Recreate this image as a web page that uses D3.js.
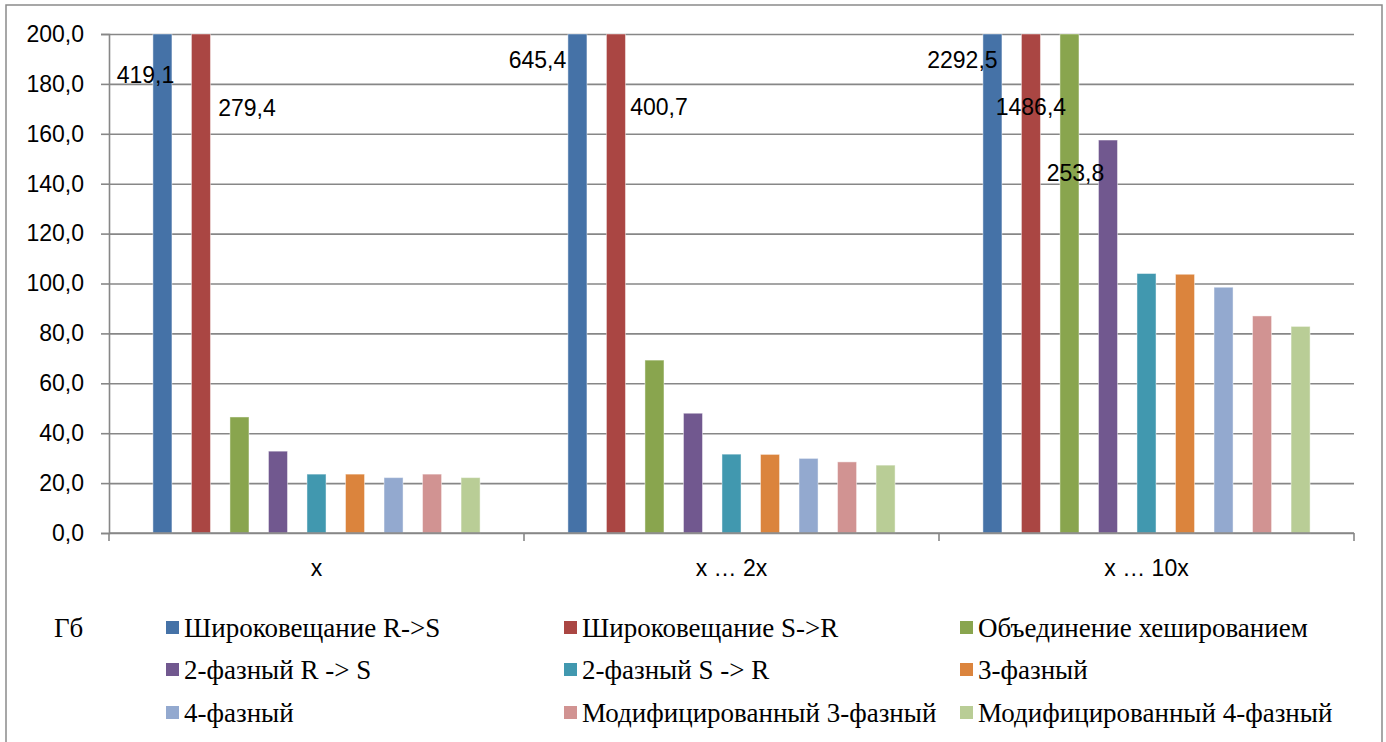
<!DOCTYPE html>
<html>
<head>
<meta charset="utf-8">
<script src="https://cdn.jsdelivr.net/npm/d3@7"></script>
<style>
  html, body { margin: 0; padding: 0; background: #fff; }
  svg { display: block; }
</style>
</head>
<body>
<svg id="chart" width="1386" height="742"></svg>
<script>
// ---- Data ----
const categories = ["x", "x … 2x", "x … 10x"];
const seriesNames = [
  "Широковещание R->S",
  "Широковещание S->R",
  "Объединение хешированием",
  "2-фазный R -> S",
  "2-фазный S -> R",
  "3-фазный",
  "4-фазный",
  "Модифицированный 3-фазный",
  "Модифицированный 4-фазный"
];
const broadcastRS = [419.1, 645.4, 2292.5];
const broadcastSR = [279.4, 400.7, 1486.4];
const hashJoin    = [46.5, 69.3, 253.8];
const twoPhaseRS  = [32.8, 48.0, 157.5];
const twoPhaseSR  = [23.6, 31.6, 104.0];
const threePhase  = [23.6, 31.5, 103.7];
const fourPhase   = [22.2, 29.9, 98.5];
const mod3Phase   = [23.6, 28.5, 87.0];
const mod4Phase   = [22.2, 27.2, 82.8];
const yTicks = [0, 20, 40, 60, 80, 100, 120, 140, 160, 180, 200];
const unitLabel = "Гб";

const seriesValues = [broadcastRS, broadcastSR, hashJoin, twoPhaseRS, twoPhaseSR,
                      threePhase, fourPhase, mod3Phase, mod4Phase];
const colors = ["#4572A7", "#AA4643", "#89A54E", "#71588F", "#4198AF",
                "#DB843D", "#93A9CF", "#D19392", "#B9CD96"];

// ---- Layout ----
const svg = d3.select("#chart");
const L = 109, R = 1354, T = 34, B = 533;
const numFont = "'Liberation Sans', Arial, sans-serif";
const serifFont = "'Liberation Serif', 'Times New Roman', serif";
const numSize = 23, legSize = 27;
const fmt = v => d3.format(".1f")(v).replace(".", ",");

// outer border
svg.append("rect").attr("x", 6).attr("y", 5).attr("width", 1376).attr("height", 760)
  .attr("fill", "none").attr("stroke", "#8a8a8a").attr("stroke-width", 1.5);

const x0 = d3.scaleBand().domain(categories).range([L, R]).padding(0);
const x1 = d3.scaleBand().domain(seriesNames).range([0, x0.bandwidth()])
  .paddingInner(0.506).paddingOuter(1.14);
const y = d3.scaleLinear().domain([0, 200]).range([B, T]).clamp(true);

// gridlines
svg.append("g").attr("transform", `translate(${L},0)`)
  .call(d3.axisLeft(y).tickValues(yTicks).tickSize(-(R - L)).tickFormat(""))
  .call(g => g.select(".domain").remove())
  .call(g => g.selectAll("line").attr("stroke", "#878787").attr("stroke-width", 1.6));

// bars
const rows = [];
seriesValues.forEach((arr, si) => arr.forEach((v, ci) => rows.push({ si, ci, v })));
svg.append("g").selectAll("rect").data(rows).join("rect")
  .attr("x", d => x0(categories[d.ci]) + x1(seriesNames[d.si]))
  .attr("y", d => y(d.v))
  .attr("width", x1.bandwidth())
  .attr("height", d => y(0) - y(d.v))
  .attr("fill", d => colors[d.si])
  .attr("stroke", "rgba(255,255,255,0.45)")
  .attr("stroke-width", 1);

// y axis
svg.append("g").attr("transform", `translate(${L},0)`)
  .call(d3.axisLeft(y).tickValues(yTicks).tickSize(8).tickPadding(17).tickFormat(fmt))
  .call(g => g.select(".domain").attr("stroke", "#878787").attr("stroke-width", 1.6))
  .call(g => g.selectAll("line").attr("stroke", "#878787").attr("stroke-width", 1.6))
  .call(g => g.selectAll("text").attr("font-family", numFont).attr("font-size", numSize).attr("fill", "#000"));

// x axis
const xg = svg.append("g").attr("transform", `translate(0,${B})`);
xg.append("line").attr("x1", L).attr("x2", R).attr("y1", 0).attr("y2", 0)
  .attr("stroke", "#878787").attr("stroke-width", 1.6);
const boundaries = categories.map(c => x0(c)).concat([x0(categories[categories.length - 1]) + x0.bandwidth()]);
xg.selectAll("line.tick").data(boundaries).join("line").attr("class", "tick")
  .attr("x1", d => d).attr("x2", d => d).attr("y1", 0).attr("y2", 8)
  .attr("stroke", "#878787").attr("stroke-width", 1.6);
xg.selectAll("text").data(categories).join("text")
  .attr("x", d => x0(d) + x0.bandwidth() / 2)
  .attr("y", 43)
  .attr("text-anchor", "middle")
  .attr("font-family", numFont).attr("font-size", numSize).attr("fill", "#000")
  .text(d => d);

// data labels for clipped bars (placement offsets relative to bar center, px)
const labelPlacement = {
  "0-0": [-17, 75], "1-0": [46, 108],
  "0-1": [-40, 60], "1-1": [43, 107],
  "0-2": [-30, 60], "1-2": [0, 107], "2-2": [6, 173]
};
svg.append("g").selectAll("text")
  .data(rows.filter(d => d.v > 200))
  .join("text")
  .attr("x", d => x0(categories[d.ci]) + x1(seriesNames[d.si]) + x1.bandwidth() / 2 + labelPlacement[`${d.si}-${d.ci}`][0])
  .attr("y", d => labelPlacement[`${d.si}-${d.ci}`][1])
  .attr("dy", "0.35em")
  .attr("text-anchor", "middle")
  .attr("font-family", numFont).attr("font-size", numSize).attr("fill", "#000")
  .text(d => fmt(d.v));

// unit label
svg.append("text").attr("x", 54).attr("y", 628).attr("dy", "0.35em")
  .attr("font-family", serifFont).attr("font-size", legSize).attr("fill", "#000")
  .text(unitLabel);

// legend
const legCols = [166, 564, 960], legRows = [628, 670, 713];
const leg = svg.append("g").selectAll("g").data(seriesNames).join("g")
  .attr("transform", (d, i) => `translate(${legCols[i % 3]},${legRows[Math.floor(i / 3)]})`);
leg.append("rect").attr("x", 0).attr("y", -7).attr("width", 13).attr("height", 13)
  .attr("fill", (d, i) => colors[i]);
leg.append("text").attr("x", 18).attr("y", 0).attr("dy", "0.35em")
  .attr("font-family", serifFont).attr("font-size", legSize).attr("fill", "#000")
  .text(d => d);
</script>
</body>
</html>
